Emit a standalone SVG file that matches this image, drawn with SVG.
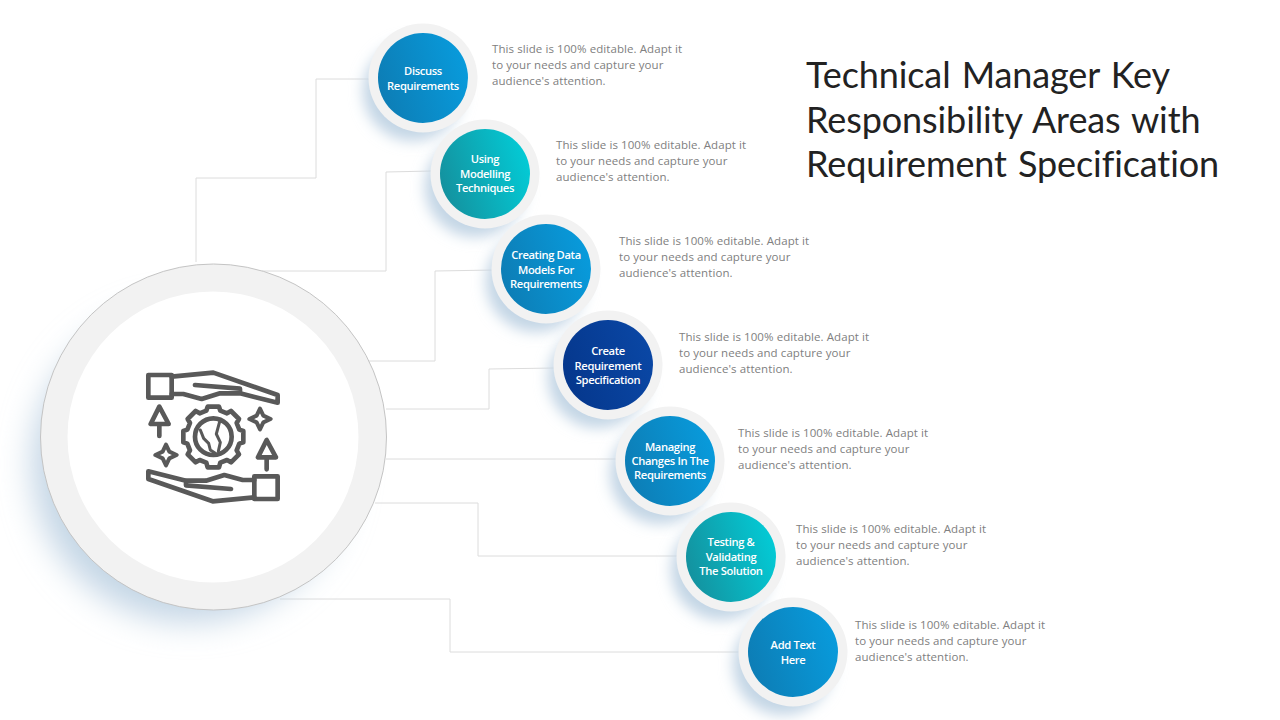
<svg xmlns="http://www.w3.org/2000/svg" width="1280" height="720" viewBox="0 0 1280 720">
<style>
.t{font-family:"Lato","Noto Sans",sans-serif;font-size:36px;fill:#222;letter-spacing:-.1px;word-spacing:2px}
.d{font-family:"Open Sans","Noto Sans",sans-serif;font-size:11.5px;fill:#808080;letter-spacing:.08px}
.n{font-family:"Open Sans","Noto Sans",sans-serif;font-size:11.2px;font-weight:600;fill:#fff;text-anchor:middle;letter-spacing:-.35px}
.c{fill:none;stroke:#dcdcdc;stroke-width:1}
.ring{fill:#f2f2f2}
.sh{fill:#c3d5e5}
.i{fill:none;stroke:#595959;stroke-width:14;stroke-linejoin:round;stroke-linecap:round}
</style>
<defs>
<linearGradient id="b" x1="0" y1="0.65" x2="1" y2="0.35"><stop offset="0" stop-color="#0d7db5"/><stop offset="1" stop-color="#089bdc"/></linearGradient>
<linearGradient id="g" x1="0" y1="0.65" x2="1" y2="0.35"><stop offset="0" stop-color="#14919e"/><stop offset="1" stop-color="#03cbd6"/></linearGradient>
<linearGradient id="v" x1="0" y1="0.65" x2="1" y2="0.35"><stop offset="0" stop-color="#05378c"/><stop offset="1" stop-color="#0a47a5"/></linearGradient>
<filter id="s" x="-40%" y="-40%" width="180%" height="180%"><feGaussianBlur stdDeviation="7"/></filter>
<filter id="S" x="-30%" y="-30%" width="160%" height="160%"><feGaussianBlur stdDeviation="16"/></filter>
</defs>
<rect width="1280" height="720" fill="#fff"/>
<g id="connectors">
<path class="c" d="M196 262V178H316V79H370"/>
<path class="c" d="M262 271H386V172L432 171"/>
<path class="c" d="M365 361H435V271L495 270"/>
<path class="c" d="M386 409H489V369L555 368"/>
<path class="c" d="M386 459H617"/>
<path class="c" d="M375 503H478V556H678"/>
<path class="c" d="M280 599H450V652H740"/>
</g>
<g id="hub">
<circle class="sh" cx="190" cy="464" r="158" filter="url(#S)"/>
<circle cx="213.500" cy="437" r="173" fill="#f2f2f2" stroke="#c4c4c4" stroke-width="1"/>
<circle cx="213" cy="437" r="145.500" fill="#fff"/>
<g transform="translate(120 350) scale(.3333)">
<g id="hand"><rect class="i" x="85" y="75" width="70" height="68"/>
<path class="i" d="M155 80L280 68L473 135V158L360 130V116L225 105M155 132H190L245 147L300 130H360"/></g>
<use href="#hand" transform="rotate(180 279 261)"/>
<path class="i" d="M118 170L92 222H146ZM118 222V258M440 270L414 322H468ZM440 322V358"/>
<path class="i" style="stroke-width:12" d="M420 176L430 197L452 207L430 217L420 238L410 217L388 207L410 197ZM138 284L148 305L170 315L148 325L138 346L128 325L106 315L128 305Z"/>
<g transform="translate(1 2)">
<path class="i" d="M262 168H296L300 180L320 188L332 181L356 205L349 217L357 237L369 241V275L357 279L349 299L356 311L332 335L320 328L300 336L296 350H262L258 336L238 328L226 335L202 311L209 299L201 279L189 275V241L201 237L209 217L202 205L226 181L238 188L258 180Z"/>
<circle class="i" cx="279" cy="258" r="55"/>
<path class="i" style="stroke-width:9" d="M240 238L250 263L265 278L270 298L285 308M298 213L288 250L300 275L294 302"/>
</g>
</g>
</g>
<g id="node1"><circle class="sh" cx="413" cy="91" r="50" filter="url(#s)"/><circle class="ring" cx="423" cy="78" r="54.500"/><circle cx="423" cy="78" r="45" fill="url(#b)"/><text class="n" x="423" y="75">Discuss</text><text class="n" x="423" y="90">Requirements</text></g>
<g id="node2"><circle class="sh" cx="475" cy="187" r="50" filter="url(#s)"/><circle class="ring" cx="485" cy="174" r="54.500"/><circle cx="485" cy="174" r="45" fill="url(#g)"/><text class="n" x="485" y="163">Using</text><text class="n" x="485" y="178">Modelling</text><text class="n" x="485" y="192">Techniques</text></g>
<g id="node3"><circle class="sh" cx="536" cy="282" r="50" filter="url(#s)"/><circle class="ring" cx="546" cy="269" r="54.500"/><circle cx="546" cy="269" r="45" fill="url(#b)"/><text class="n" x="546" y="259">Creating Data</text><text class="n" x="546" y="274">Models For</text><text class="n" x="546" y="288">Requirements</text></g>
<g id="node4"><circle class="sh" cx="598" cy="378" r="50" filter="url(#s)"/><circle class="ring" cx="608" cy="365" r="54.500"/><circle cx="608" cy="365" r="45" fill="url(#v)"/><text class="n" x="608" y="355">Create</text><text class="n" x="608" y="370">Requirement</text><text class="n" x="608" y="384">Specification</text></g>
<g id="node5"><circle class="sh" cx="660" cy="474" r="50" filter="url(#s)"/><circle class="ring" cx="670" cy="461" r="54.500"/><circle cx="670" cy="461" r="45" fill="url(#b)"/><text class="n" x="670" y="451">Managing</text><text class="n" x="670" y="465">Changes In The</text><text class="n" x="670" y="479">Requirements</text></g>
<g id="node6"><circle class="sh" cx="721" cy="570" r="50" filter="url(#s)"/><circle class="ring" cx="731" cy="557" r="54.500"/><circle cx="731" cy="557" r="45" fill="url(#g)"/><text class="n" x="731" y="546">Testing &amp;</text><text class="n" x="731" y="561">Validating</text><text class="n" x="731" y="575">The Solution</text></g>
<g id="node7"><circle class="sh" cx="783" cy="665" r="50" filter="url(#s)"/><circle class="ring" cx="793" cy="652" r="54.500"/><circle cx="793" cy="652" r="45" fill="url(#b)"/><text class="n" x="793" y="649">Add Text</text><text class="n" x="793" y="664">Here</text></g>
<g id="descriptions">
<text class="d" x="492" y="53">This slide is 100% editable. Adapt it</text><text class="d" x="492" y="69">to your needs and capture your</text><text class="d" x="492" y="85">audience's attention.</text>
<text class="d" x="556" y="149">This slide is 100% editable. Adapt it</text><text class="d" x="556" y="165">to your needs and capture your</text><text class="d" x="556" y="181">audience's attention.</text>
<text class="d" x="619" y="245">This slide is 100% editable. Adapt it</text><text class="d" x="619" y="261">to your needs and capture your</text><text class="d" x="619" y="277">audience's attention.</text>
<text class="d" x="679" y="341">This slide is 100% editable. Adapt it</text><text class="d" x="679" y="357">to your needs and capture your</text><text class="d" x="679" y="373">audience's attention.</text>
<text class="d" x="738" y="437">This slide is 100% editable. Adapt it</text><text class="d" x="738" y="453">to your needs and capture your</text><text class="d" x="738" y="469">audience's attention.</text>
<text class="d" x="796" y="533">This slide is 100% editable. Adapt it</text><text class="d" x="796" y="549">to your needs and capture your</text><text class="d" x="796" y="565">audience's attention.</text>
<text class="d" x="855" y="629">This slide is 100% editable. Adapt it</text><text class="d" x="855" y="645">to your needs and capture your</text><text class="d" x="855" y="661">audience's attention.</text>
</g>
<g id="title">
<text class="t" x="806" y="88">Technical Manager Key</text>
<text class="t" x="806" y="133">Responsibility Areas with</text>
<text class="t" x="806" y="177">Requirement Specification</text>
</g>
</svg>
